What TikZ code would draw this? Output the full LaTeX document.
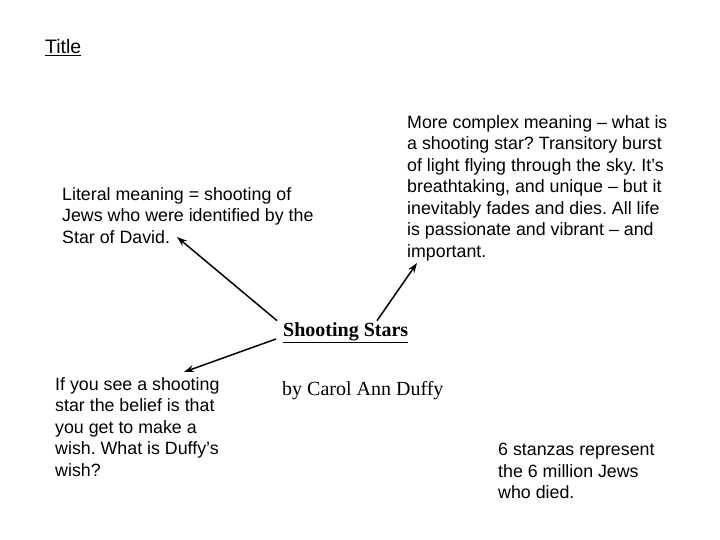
\documentclass[tikz,border=0pt]{standalone}
\usepackage{fontspec}
\setmainfont{Liberation Sans}
\newfontfamily\timesfont{Liberation Serif}
\usetikzlibrary{arrows.meta}
\frenchspacing

\tikzset{
    blurb/.style={anchor=north west, align=left, inner sep=0pt,
        font=\fontsize{17.8}{21.5}\selectfont},
    poemtext/.style={anchor=west, inner sep=0pt,
        font=\timesfont\fontsize{20}{24}\selectfont},
    pointer/.style={-{Stealth[length=10pt,width=7pt]}, line width=1.5pt}
}

\begin{document}
\begin{tikzpicture}[x=1pt,y=-1pt]
    \useasboundingbox (0,0) rectangle (720,540);

    % titles
    \node[blurb, font=\fontsize{19.5}{22}\selectfont] (title) at (45,39) {\underline{Title}};
    \node[poemtext] (poem) at (283,333) {\textbf{\underline{Shooting Stars}}};
    \node[poemtext] (author) at (282,391) {by Carol Ann Duffy};

    % the notes around the poem
    \node[blurb] (literal) at (62,187) {Literal meaning = shooting of\\
        Jews who were identified by the\\
        Star of David.};
    \node[blurb] (complex) at (407,115) {More complex meaning -- what is\\
        a shooting star? Transitory burst\\
        of light flying through the sky. It's\\
        breathtaking, and unique -- but it\\
        inevitably fades and dies. All life\\
        is passionate and vibrant -- and\\
        important.};
    \node[blurb] (wish) at (55,377) {If you see a shooting\\
        star the belief is that\\
        you get to make a\\
        wish. What is Duffy's\\
        wish?};
    \node[blurb] (stanzas) at (498,443) {6 stanzas represent\\
        the 6 million Jews\\
        who died.};

    % arrow ends
    \coordinate (litend) at (177,237);
    \coordinate (compend) at (417,263);
    \coordinate (wishend) at (184,372);

    \draw[pointer] (poem.north west) ++(-6,-2) -- (litend);
    \draw[pointer] (poem.north west) ++(94,-2) -- (compend);
    \draw[pointer] (poem.west) ++(-7,6) -- (wishend);
\end{tikzpicture}
\end{document}
